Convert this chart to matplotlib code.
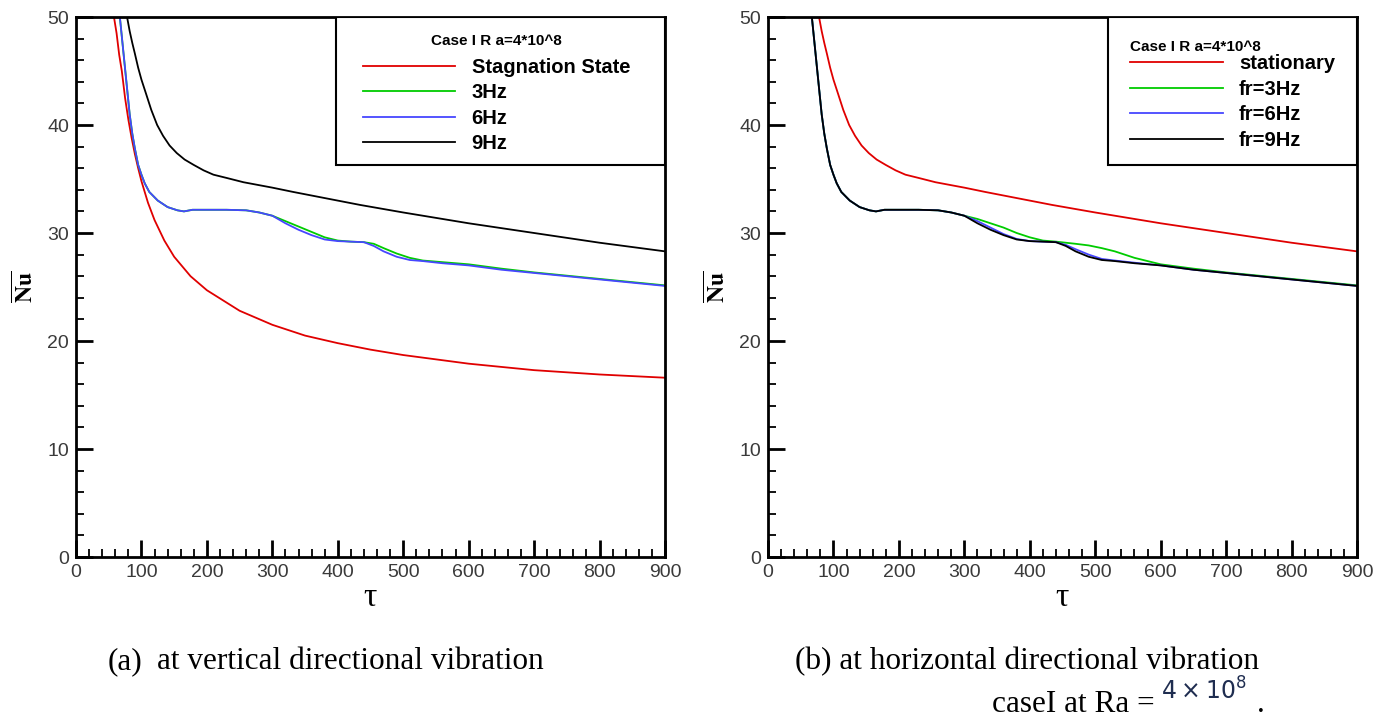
import matplotlib
matplotlib.use("Agg")
import matplotlib.pyplot as plt
from matplotlib.patches import Rectangle
from matplotlib.ticker import MultipleLocator

plt.rcParams['font.family'] = ['Liberation Sans', 'DejaVu Sans']
plt.rcParams['mathtext.fontset'] = 'stix'

# (a) vertical vibration
tau_stag_a = [55, 58, 62, 66, 70, 75, 80, 85, 90, 95, 100, 110, 120, 135, 150, 175, 200, 250,
              300, 350, 400, 450, 500, 550, 600, 650, 700, 750, 800, 850, 900]
nu_stag_a = [52, 50, 48.5, 46.5, 45, 42.5, 40.5, 38.8, 37.3, 36, 34.8, 32.8, 31.2, 29.3, 27.8, 26,
             24.7, 22.8, 21.5, 20.5, 19.8, 19.2, 18.7, 18.3, 17.9, 17.6, 17.3, 17.1, 16.9, 16.75, 16.6]

tau_vib = [62, 67, 72, 77, 82, 86, 90, 95, 100, 105, 112, 125, 140, 155, 165, 178, 200, 230, 260,
           280, 300, 320, 340, 360, 380, 400, 420, 440, 455, 470, 490, 510, 530, 560, 600, 650,
           700, 750, 800, 850, 900]
nu_6hz_a = [51.5, 50, 47, 44, 41, 39.2, 37.8, 36.3, 35.4, 34.6, 33.8, 33.0, 32.4, 32.1, 32.0, 32.15,
            32.15, 32.15, 32.1, 31.9, 31.6, 30.9, 30.3, 29.8, 29.4, 29.25, 29.2, 29.15, 28.8, 28.3,
            27.8, 27.5, 27.4, 27.2, 27.0, 26.6, 26.3, 26.0, 25.7, 25.4, 25.1]
nu_3hz_a = [51.5, 50, 47, 44, 41, 39.2, 37.8, 36.3, 35.4, 34.6, 33.8, 33.0, 32.4, 32.1, 32.0, 32.15,
            32.15, 32.15, 32.1, 31.9, 31.6, 31.1, 30.6, 30.1, 29.6, 29.3, 29.2, 29.15, 29.0, 28.6,
            28.1, 27.7, 27.45, 27.3, 27.1, 26.7, 26.35, 26.05, 25.75, 25.45, 25.15]

tau_9hz_a = [76, 78, 82, 86, 90, 95, 100, 107, 115, 124, 133, 143, 154, 166, 180, 195, 210, 230,
             256, 300, 332, 400, 434, 500, 600, 700, 800, 900]
nu_9hz_a = [51, 50, 48.7, 47.6, 46.6, 45.3, 44.2, 42.9, 41.4, 40.0, 39.0, 38.1, 37.4, 36.8, 36.3,
            35.8, 35.4, 35.1, 34.7, 34.2, 33.8, 33.0, 32.6, 31.9, 30.9, 30.0, 29.1, 28.3]

# (b) horizontal vibration
tau_stat_b = tau_9hz_a
nu_stat_b = nu_9hz_a
nu_9hz_b = nu_6hz_a
nu_6hz_b = [51.5, 50, 47, 44, 41, 39.2, 37.8, 36.3, 35.4, 34.6, 33.8, 33.0, 32.4, 32.1, 32.0, 32.15,
            32.15, 32.15, 32.1, 31.9, 31.6, 31.1, 30.5, 29.9, 29.45, 29.25, 29.2, 29.15, 28.9, 28.5,
            28.0, 27.6, 27.45, 27.25, 27.0, 26.6, 26.3, 26.0, 25.7, 25.4, 25.1]
nu_3hz_b = [51.5, 50, 47, 44, 41, 39.2, 37.8, 36.3, 35.4, 34.6, 33.8, 33.0, 32.4, 32.1, 32.0, 32.15,
            32.15, 32.15, 32.1, 31.9, 31.6, 31.3, 30.9, 30.5, 30.0, 29.6, 29.3, 29.2, 29.1, 29.0,
            28.85, 28.6, 28.3, 27.7, 27.1, 26.7, 26.35, 26.05, 25.75, 25.45, 25.15]

RED, GREEN, BLUE, BLACK = '#e00000', '#00cc00', '#4646ff', '#000000'

fig = plt.figure(figsize=(13.95, 7.19), dpi=100)
ax1 = fig.add_axes([76/1395, 162/719, 589/1395, 540/719])
ax2 = fig.add_axes([768/1395, 162/719, 589/1395, 540/719])

lw = 1.3
ax1.plot(tau_stag_a, nu_stag_a, color=RED, lw=lw, label='Stagnation State')
ax1.plot(tau_vib, nu_3hz_a, color=GREEN, lw=lw, label='3Hz')
ax1.plot(tau_vib, nu_6hz_a, color=BLUE, lw=lw, label='6Hz')
ax1.plot(tau_9hz_a, nu_9hz_a, color=BLACK, lw=lw, label='9Hz')

ax2.plot(tau_stat_b, nu_stat_b, color=RED, lw=lw, label='stationary')
ax2.plot(tau_vib, nu_3hz_b, color=GREEN, lw=lw, label='fr=3Hz')
ax2.plot(tau_vib, nu_6hz_b, color=BLUE, lw=lw, label='fr=6Hz')
ax2.plot(tau_vib, nu_9hz_b, color=BLACK, lw=lw, label='fr=9Hz')

for ax in (ax1, ax2):
    ax.set_xlim(0, 900)
    ax.set_ylim(0, 50)
    ax.xaxis.set_major_locator(MultipleLocator(100))
    ax.xaxis.set_minor_locator(MultipleLocator(20))
    ax.yaxis.set_major_locator(MultipleLocator(10))
    ax.yaxis.set_minor_locator(MultipleLocator(2))
    ax.tick_params(which='both', direction='in', top=False, right=False, labelsize=14,
                   labelcolor='#3a3a3a', pad=5)
    ax.tick_params(which='major', length=12, width=2)
    ax.tick_params(which='minor', length=6, width=1.3)
    for s in ax.spines.values():
        s.set_linewidth(2)
    ax.set_xlabel('τ', fontsize=24, labelpad=1, family='Liberation Serif')
    ax.set_ylabel(r'$\overline{\mathbf{Nu}}$', fontsize=17, labelpad=6)

# legend frames (box spans to the right spine)
frames = {ax1: (0.441, 0.726, 0.559, 0.274), ax2: (0.577, 0.726, 0.423, 0.274)}
for ax, (x0, y0, w, h) in frames.items():
    ax.add_patch(Rectangle((x0, y0), w, h, transform=ax.transAxes, facecolor='white',
                           edgecolor='black', lw=1.5, zorder=4))

leg_kw = dict(frameon=False, loc='upper left', borderaxespad=0, borderpad=0,
              handlelength=4.6, handletextpad=0.8, labelspacing=0.32,
              prop={'weight': 'bold', 'size': 14.5},
              title='Case I R a=4*10^8', title_fontproperties={'weight': 'bold', 'size': 11})
l1 = ax1.legend(bbox_to_anchor=(0.487, 0.968), alignment='center', **leg_kw)
l2 = ax2.legend(bbox_to_anchor=(0.615, 0.957), alignment='left', **leg_kw)
l1.set_zorder(5)
l2.set_zorder(5)
l1._legend_box.sep = 7
l2._legend_box.sep = 0

serif = 'Liberation Serif'
fig.text(108/1395, 1 - 669/719, '(a)', fontsize=22.5, family=serif)
fig.text(157/1395, 1 - 669/719, 'at vertical directional vibration', fontsize=22.5, family=serif)
fig.text(795/1395, 1 - 669/719, '(b) at horizontal directional vibration', fontsize=22.5, family=serif)
fig.text(992/1395, 1 - 712/719, 'caseI at Ra =', fontsize=22.5, family=serif)
fig.text(1161/1395, 1 - 700/719, r'$4\times10^{8}$', fontsize=17, color='#1f2d50',
         math_fontfamily='dejavusans')
fig.text(1257/1395, 1 - 712/719, '.', fontsize=22.5, family=serif)

fig.savefig('out.png', dpi=100)
